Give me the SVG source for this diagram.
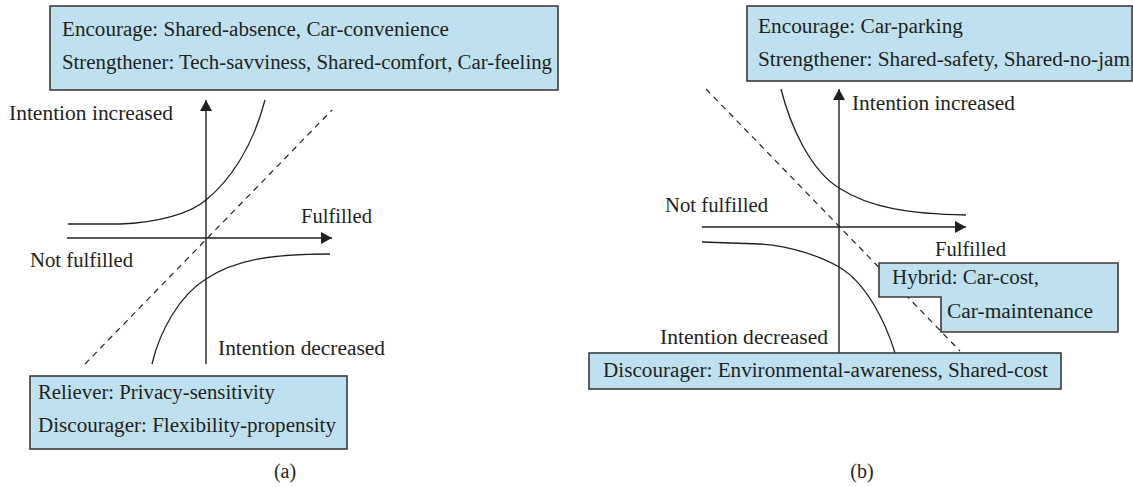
<svg xmlns="http://www.w3.org/2000/svg" width="1133" height="487" viewBox="0 0 1133 487">
<style>
text{font-family:"Liberation Serif","Times New Roman",serif;font-size:20px;fill:#231f20}
.box{fill:#bfe0ef;stroke:#3a3a3a;stroke-width:1.6}
.ax{fill:none;stroke:#231f20;stroke-width:1.4}
.cv{fill:none;stroke:#231f20;stroke-width:1.3}
.ds{fill:none;stroke:#231f20;stroke-width:1.2;stroke-dasharray:6 5}
</style>
<defs>
<marker id="ah" viewBox="0 0 11 12" refX="11" refY="6" markerWidth="11" markerHeight="12" markerUnits="userSpaceOnUse" orient="auto">
<path d="M0,0 L11,6 L0,12 Z" fill="#231f20"/>
</marker>
</defs>
<rect width="1133" height="487" fill="#fff"/>

<g id="connectors">
<!-- panel a -->
<line class="ds" x1="85" y1="364" x2="332" y2="110"/>
<line class="ax" x1="206" y1="364" x2="206" y2="100" marker-end="url(#ah)"/>
<line class="ax" x1="67" y1="238" x2="332" y2="238" marker-end="url(#ah)"/>
<path class="cv" d="M68,224 L120,224 C155,223 190,214 206,200 C228,182 252,150 265,100"/>
<path class="cv" d="M152,364 C160,330 180,295 206,279 C235,260 270,254 330,254"/>
<!-- panel b -->
<line class="ds" x1="706" y1="89" x2="960" y2="351"/>
<line class="ax" x1="839" y1="353" x2="839" y2="89" marker-end="url(#ah)"/>
<line class="ax" x1="702" y1="227" x2="966" y2="227" marker-end="url(#ah)"/>
<path class="cv" d="M781,89 C790,125 810,170 839,188 C870,208 910,214 966,215"/>
<path class="cv" d="M702,242 L760,244 C790,246 820,256 839,267 C865,282 885,320 895,353"/>
</g>

<g id="a-top">
<rect class="box" x="50" y="6" width="508" height="84"/>
<text x="62" y="36" textLength="387" lengthAdjust="spacingAndGlyphs">Encourage: Shared-absence, Car-convenience</text>
<text x="62" y="69" textLength="490" lengthAdjust="spacingAndGlyphs">Strengthener: Tech-savviness, Shared-comfort, Car-feeling</text>
</g>
<g id="a-bottom">
<rect class="box" x="30" y="376" width="317" height="73"/>
<text x="38" y="399" textLength="237" lengthAdjust="spacingAndGlyphs">Reliever: Privacy-sensitivity</text>
<text x="38" y="432" textLength="298" lengthAdjust="spacingAndGlyphs">Discourager: Flexibility-propensity</text>
</g>
<g id="a-labels">
<text x="9" y="120" textLength="164" lengthAdjust="spacingAndGlyphs">Intention increased</text>
<text x="301" y="223" textLength="71" lengthAdjust="spacingAndGlyphs">Fulfilled</text>
<text x="30" y="267" textLength="103" lengthAdjust="spacingAndGlyphs">Not fulfilled</text>
<text x="218" y="355" textLength="167" lengthAdjust="spacingAndGlyphs">Intention decreased</text>
<text x="285" y="478" text-anchor="middle">(a)</text>
</g>

<g id="b-top">
<rect class="box" x="747" y="6" width="385" height="75"/>
<text x="758" y="33" textLength="205" lengthAdjust="spacingAndGlyphs">Encourage: Car-parking</text>
<text x="758" y="66" textLength="372" lengthAdjust="spacingAndGlyphs">Strengthener: Shared-safety, Shared-no-jam</text>
</g>
<g id="b-hybrid">
<path class="box" d="M879,263 L1118,263 L1118,332 L941,332 L941,297 L879,297 Z"/>
<text x="892" y="284" textLength="147" lengthAdjust="spacingAndGlyphs">Hybrid: Car-cost,</text>
<text x="947" y="318" textLength="146" lengthAdjust="spacingAndGlyphs">Car-maintenance</text>
</g>
<g id="b-bottom">
<rect class="box" x="589" y="353" width="472" height="36"/>
<text x="603" y="377" textLength="445" lengthAdjust="spacingAndGlyphs">Discourager: Environmental-awareness, Shared-cost</text>
</g>
<g id="b-labels">
<text x="852" y="110" textLength="163" lengthAdjust="spacingAndGlyphs">Intention increased</text>
<text x="665" y="212" textLength="103" lengthAdjust="spacingAndGlyphs">Not fulfilled</text>
<text x="935" y="256" textLength="71" lengthAdjust="spacingAndGlyphs">Fulfilled</text>
<text x="660" y="344" textLength="168" lengthAdjust="spacingAndGlyphs">Intention decreased</text>
<text x="862" y="478" text-anchor="middle">(b)</text>
</g>
</svg>
